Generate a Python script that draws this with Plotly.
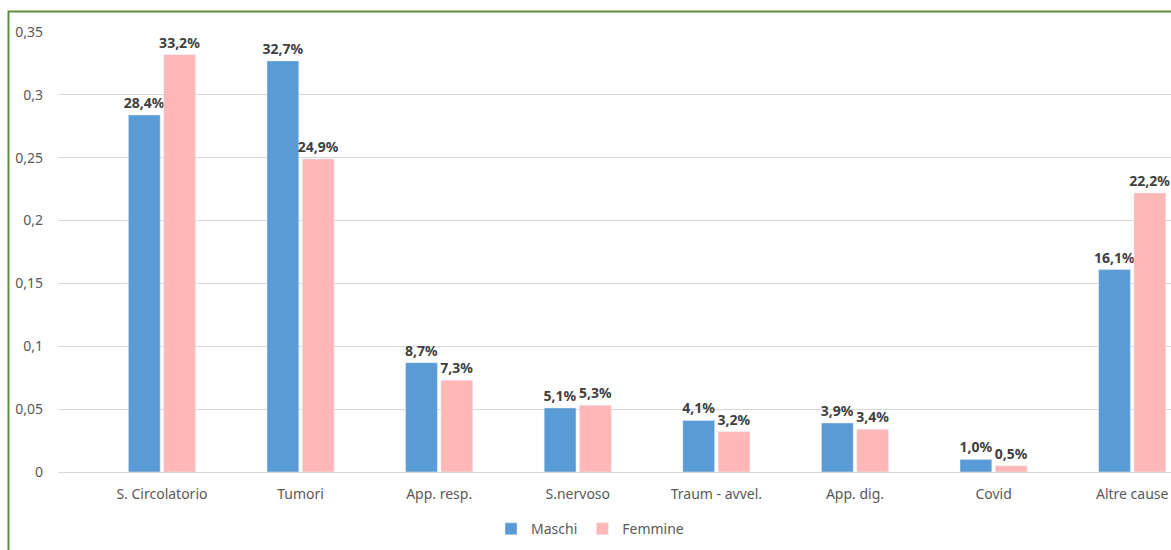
import plotly.graph_objects as go

categories = ["S. Circolatorio", "Tumori", "App. resp.", "S.nervoso", "Traum - avvel.", "App. dig.", "Covid", "Altre cause"]
maschi = [0.284, 0.327, 0.087, 0.051, 0.041, 0.039, 0.010, 0.161]
femmine = [0.332, 0.249, 0.073, 0.053, 0.032, 0.034, 0.005, 0.222]
y_tickvals = [0, 0.05, 0.1, 0.15, 0.2, 0.25, 0.3, 0.35]
y_ticktext = ["0", "0,05", "0,1", "0,15", "0,2", "0,25", "0,3", "0,35"]

def fmt(v):
    return f"{v*100:.1f}%".replace(".", ",")

FONT = "Noto Sans"
W, H = 1171, 550
L, R, T, B = 58, 1171, 32, 472

fig = go.Figure()
fig.add_trace(go.Bar(
    x=categories, y=maschi, name="Maschi", marker_color="#5B9BD5",
    text=[fmt(v) for v in maschi], textposition="outside", constraintext="none",
    cliponaxis=False,
    textfont=dict(family=FONT, size=14, color="#404040", weight="bold"),
))
fig.add_trace(go.Bar(
    x=categories, y=femmine, name="Femmine", marker_color="#FFB7B7",
    text=[fmt(v) for v in femmine], textposition="outside", constraintext="none",
    cliponaxis=False,
    textfont=dict(family=FONT, size=14, color="#404040", weight="bold"),
))

pw = R - L
ph = B - T
fig.add_shape(type="rect", xref="paper", yref="paper",
              x0=(8.5 - L) / pw, x1=1.1, y0=-0.3, y1=1 + (T - 11.5) / ph,
              line=dict(color="#5E8E3E", width=2), fillcolor="rgba(0,0,0,0)", layer="above")

fig.update_layout(
    width=W, height=H,
    margin=dict(l=L, r=W - R, t=T, b=H - B),
    paper_bgcolor="white", plot_bgcolor="white",
    barmode="group", bargap=0.49, bargroupgap=0.1,
    font=dict(family=FONT, color="#595959", size=14),
    showlegend=True,
    legend=dict(orientation="h", x=0.478, xanchor="center", y=-0.13, yanchor="middle",
                font=dict(family=FONT, size=14, color="#595959"), traceorder="normal",
                itemwidth=30),
    xaxis=dict(range=[-0.75, 7.28], showgrid=False, showline=False, ticks="",
               ticklabelstandoff=12,
               tickfont=dict(family=FONT, size=14, color="#595959")),
    yaxis=dict(range=[0, 0.35], tickvals=y_tickvals, ticktext=y_ticktext,
               showgrid=True, gridcolor="#D9D9D9", gridwidth=1,
               zeroline=True, zerolinecolor="#D9D9D9", zerolinewidth=1,
               showline=False, ticks="", ticklabelstandoff=14,
               tickfont=dict(family=FONT, size=14, color="#595959")),
)

fig.write_html("out.html", config={"displayModeBar": False},
               post_script="document.body.style.margin='0';document.body.style.overflow='hidden';")
